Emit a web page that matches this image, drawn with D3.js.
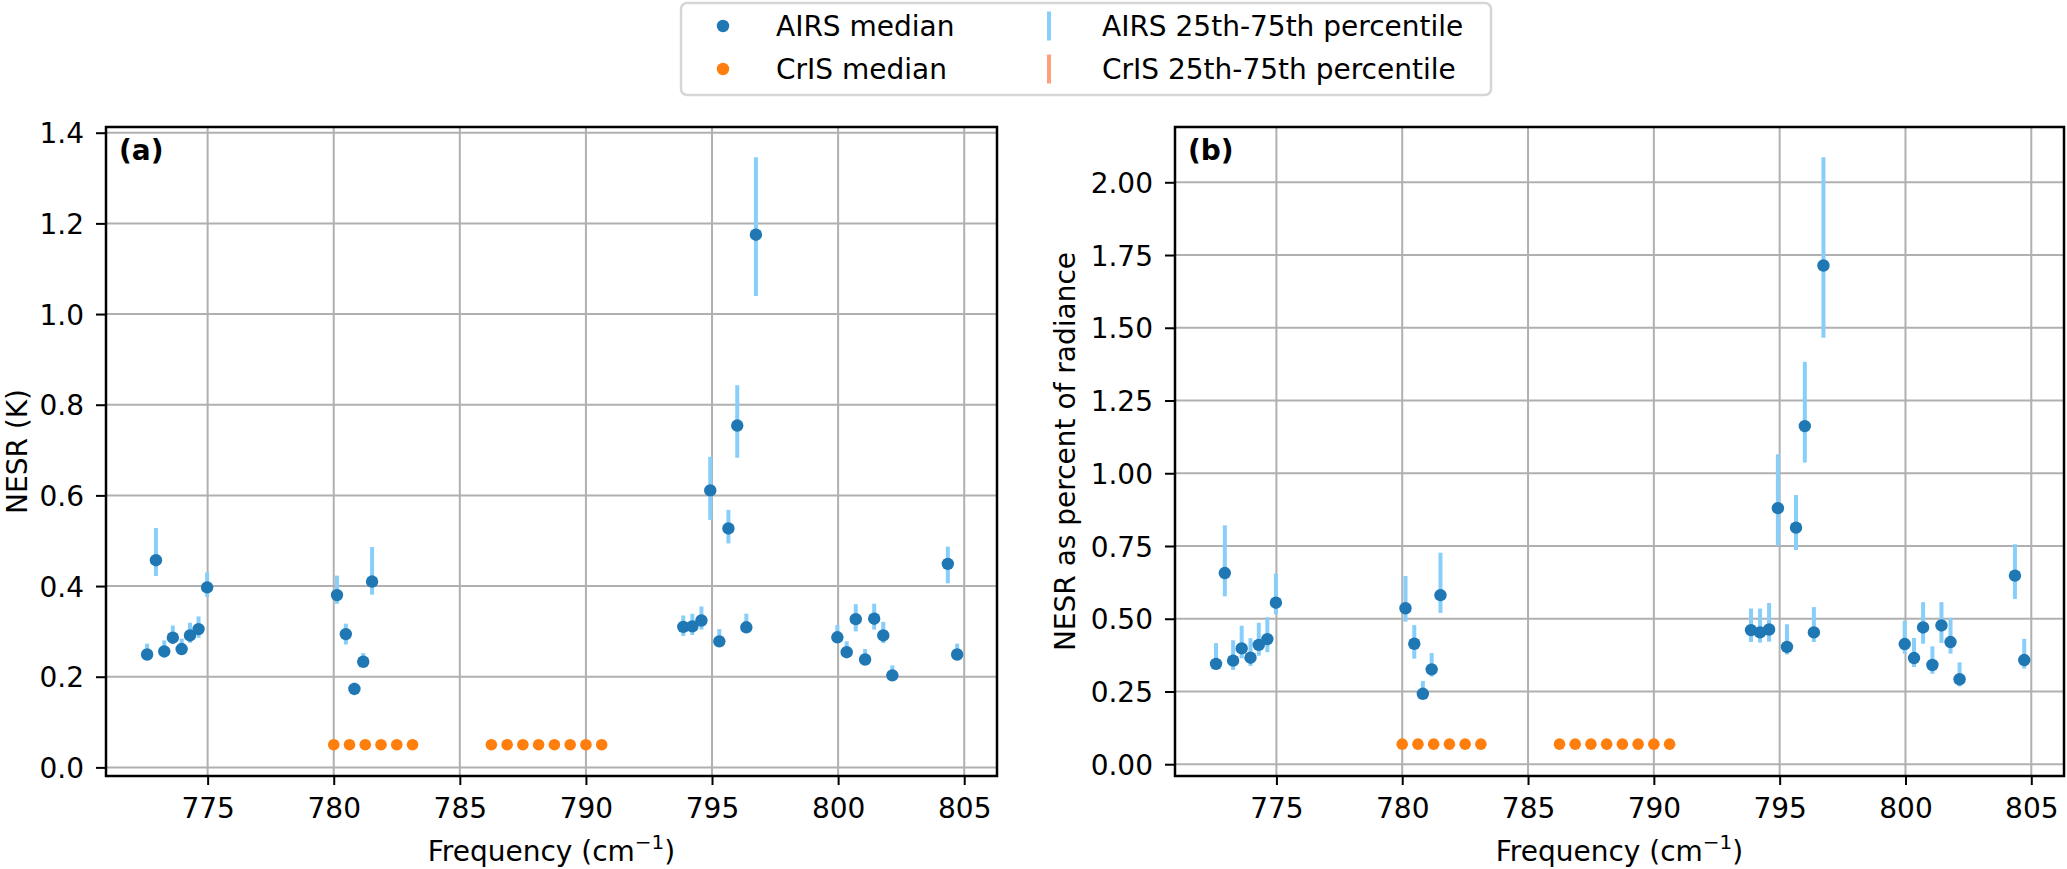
<!DOCTYPE html>
<html>
<head>
<meta charset="utf-8">
<script src="https://cdn.jsdelivr.net/npm/d3@7"></script>
<style>
  body { margin: 0; background: #fff; }
  text { font-family: "DejaVu Sans", sans-serif; fill: #000; }
</style>
</head>
<body>
<div id="main"></div>
<script>

// channel frequencies (cm-1)
const airsFreq = [772.60, 772.95, 773.28, 773.62, 773.97, 774.30, 774.64, 774.98,
    780.13, 780.48, 780.82, 781.17, 781.52,
    793.86, 794.22, 794.58, 794.93, 795.29, 795.65, 796.00, 796.36, 796.74,
    799.97, 800.34, 800.70, 801.07, 801.43, 801.79, 802.15, 804.35, 804.72];
const crisFreq = [780.0, 780.625, 781.25, 781.875, 782.5, 783.125,
    786.25, 786.875, 787.5, 788.125, 788.75, 789.375, 790.0, 790.625];

// (a) NESR in K
const airsNesrMed = [0.249, 0.457, 0.256, 0.286, 0.261, 0.291, 0.305, 0.397,
    0.380, 0.294, 0.173, 0.233, 0.410,
    0.310, 0.311, 0.324, 0.611, 0.278, 0.527, 0.754, 0.309, 1.175,
    0.287, 0.254, 0.327, 0.238, 0.328, 0.291, 0.203, 0.449, 0.249];
const airsNesrP25 = [0.240, 0.422, 0.242, 0.273, 0.250, 0.275, 0.286, 0.376,
    0.361, 0.271, 0.163, 0.223, 0.381,
    0.290, 0.292, 0.304, 0.546, 0.270, 0.494, 0.683, 0.298, 1.040,
    0.274, 0.243, 0.300, 0.227, 0.304, 0.274, 0.195, 0.406, 0.239];
const airsNesrP75 = [0.273, 0.528, 0.280, 0.313, 0.284, 0.319, 0.333, 0.430,
    0.423, 0.317, 0.187, 0.252, 0.486,
    0.335, 0.339, 0.355, 0.685, 0.305, 0.568, 0.843, 0.339, 1.346,
    0.314, 0.278, 0.360, 0.261, 0.361, 0.321, 0.225, 0.487, 0.273];
const crisNesrMed = [0.050, 0.050, 0.050, 0.050, 0.050, 0.050,
    0.050, 0.050, 0.050, 0.050, 0.050, 0.050, 0.050, 0.050];
const crisNesrP25 = [0.049, 0.049, 0.049, 0.049, 0.049, 0.049,
    0.049, 0.049, 0.049, 0.049, 0.049, 0.049, 0.049, 0.049];
const crisNesrP75 = [0.051, 0.051, 0.051, 0.051, 0.051, 0.051,
    0.051, 0.051, 0.051, 0.051, 0.051, 0.051, 0.051, 0.051];

// (b) NESR as percent of radiance
const airsPctMed = [0.345, 0.657, 0.356, 0.398, 0.366, 0.410, 0.430, 0.555,
    0.536, 0.414, 0.242, 0.326, 0.581,
    0.461, 0.453, 0.463, 0.880, 0.403, 0.813, 1.162, 0.453, 1.714,
    0.413, 0.365, 0.470, 0.341, 0.477, 0.420, 0.292, 0.648, 0.358];
const airsPctP25 = [0.324, 0.577, 0.324, 0.364, 0.338, 0.373, 0.385, 0.515,
    0.490, 0.363, 0.226, 0.301, 0.520,
    0.420, 0.418, 0.421, 0.751, 0.377, 0.736, 1.037, 0.420, 1.466,
    0.380, 0.334, 0.414, 0.311, 0.417, 0.380, 0.267, 0.568, 0.329];
const airsPctP75 = [0.416, 0.821, 0.426, 0.476, 0.433, 0.486, 0.505, 0.655,
    0.647, 0.478, 0.286, 0.382, 0.727,
    0.535, 0.535, 0.554, 1.065, 0.481, 0.925, 1.383, 0.540, 2.086,
    0.493, 0.434, 0.557, 0.405, 0.557, 0.503, 0.350, 0.756, 0.431];
const crisPctMed = [0.069, 0.069, 0.069, 0.069, 0.069, 0.069,
    0.069, 0.069, 0.069, 0.069, 0.069, 0.069, 0.069, 0.069];
const crisPctP25 = [0.068, 0.068, 0.068, 0.068, 0.068, 0.068,
    0.068, 0.068, 0.068, 0.068, 0.068, 0.068, 0.068, 0.068];
const crisPctP75 = [0.070, 0.070, 0.070, 0.070, 0.070, 0.070,
    0.070, 0.070, 0.070, 0.070, 0.070, 0.070, 0.070, 0.070];

const xTicks = [775, 780, 785, 790, 795, 800, 805];
const yTicksA = [0.0, 0.2, 0.4, 0.6, 0.8, 1.0, 1.2, 1.4];
const yTicksB = [0.00, 0.25, 0.50, 0.75, 1.00, 1.25, 1.50, 1.75, 2.00];

const airsColor = "#1f77b4", airsBarColor = "#87cefa";
const crisColor = "#ff7f0e", crisBarColor = "#ffa07a";
const FS = 28;

const svg = d3.select("#main").append("svg")
    .attr("width", 2067)
    .attr("height", 869);

function zip(f, med, lo, hi) {
    return f.map((d, i) => ({f: d, med: med[i], lo: lo[i], hi: hi[i]}));
}

function drawPanel(opts) {
    const x = d3.scaleLinear().domain([770.97, 806.3]).range([opts.left, opts.right]);
    const y = d3.scaleLinear().domain(opts.yDomain).range([776, 127]);
    const g = svg.append("g");

    // grid
    g.append("g").selectAll("line").data(xTicks).enter().append("line")
        .attr("x1", d => x(d)).attr("x2", d => x(d))
        .attr("y1", y.range()[0]).attr("y2", y.range()[1])
        .attr("stroke", "#b0b0b0").attr("stroke-width", 2);
    g.append("g").selectAll("line").data(opts.yTicks).enter().append("line")
        .attr("x1", opts.left).attr("x2", opts.right)
        .attr("y1", d => y(d)).attr("y2", d => y(d))
        .attr("stroke", "#b0b0b0").attr("stroke-width", 2);

    // error bars then medians
    const airs = zip(airsFreq, opts.airsMed, opts.airsLo, opts.airsHi);
    const cris = zip(crisFreq, opts.crisMed, opts.crisLo, opts.crisHi);

    g.append("g").selectAll("line").data(airs).enter().append("line")
        .attr("x1", d => x(d.f)).attr("x2", d => x(d.f))
        .attr("y1", d => y(d.lo)).attr("y2", d => y(d.hi))
        .attr("stroke", airsBarColor).attr("stroke-width", 4);
    g.append("g").selectAll("circle").data(airs).enter().append("circle")
        .attr("cx", d => x(d.f)).attr("cy", d => y(d.med))
        .attr("r", 6.2).attr("fill", airsColor);

    g.append("g").selectAll("line").data(cris).enter().append("line")
        .attr("x1", d => x(d.f)).attr("x2", d => x(d.f))
        .attr("y1", d => y(d.lo)).attr("y2", d => y(d.hi))
        .attr("stroke", crisBarColor).attr("stroke-width", 4);
    g.append("g").selectAll("circle").data(cris).enter().append("circle")
        .attr("cx", d => x(d.f)).attr("cy", d => y(d.med))
        .attr("r", 5.8).attr("fill", crisColor);

    // axes
    const xAxis = g.append("g")
        .attr("transform", "translate(0,776)")
        .call(d3.axisBottom(x).tickValues(xTicks).tickSize(9).tickFormat(d3.format("d")));
    xAxis.selectAll("text").attr("y", 42).attr("dy", 0)
        .style("font-size", FS + "px").style("font-family", "DejaVu Sans");

    const yAxis = g.append("g")
        .attr("transform", "translate(" + opts.left + ",0)")
        .call(d3.axisLeft(y).tickValues(opts.yTicks).tickSize(10).tickPadding(12)
            .tickFormat(d3.format(opts.fmt)));
    yAxis.selectAll("text").attr("dy", "0.36em")
        .style("font-size", FS + "px").style("font-family", "DejaVu Sans");

    [xAxis, yAxis].forEach(a => {
        a.select(".domain").remove();
        a.selectAll(".tick line").attr("stroke", "#000").attr("stroke-width", 2);
    });

    // frame
    g.append("rect")
        .attr("x", opts.left).attr("y", 127)
        .attr("width", opts.right - opts.left).attr("height", 776 - 127)
        .attr("fill", "none").attr("stroke", "#000").attr("stroke-width", 2.5);

    // panel tag
    g.append("text")
        .attr("x", opts.left + 13).attr("y", 160)
        .style("font-size", FS + "px").style("font-weight", "bold")
        .text(opts.tag);

    // x label
    const xl = g.append("text")
        .attr("x", (opts.left + opts.right) / 2).attr("y", 861)
        .attr("text-anchor", "middle")
        .style("font-size", FS + "px");
    xl.append("tspan").text("Frequency (cm");
    xl.append("tspan").attr("dy", -12).style("font-size", "20px").text("\u22121");
    xl.append("tspan").attr("dy", 12).text(")");

    // y label
    g.append("text")
        .attr("transform", "translate(" + opts.ylabelX + ",451.5)rotate(-90)")
        .attr("text-anchor", "middle")
        .style("font-size", FS + "px")
        .text(opts.ylabel);
}

drawPanel({
    left: 106, right: 997, yDomain: [-0.019, 1.4126], yTicks: yTicksA, fmt: ".1f",
    airsMed: airsNesrMed, airsLo: airsNesrP25, airsHi: airsNesrP75,
    crisMed: crisNesrMed, crisLo: crisNesrP25, crisHi: crisNesrP75,
    tag: "(a)", ylabel: "NESR (K)", ylabelX: 27
});

drawPanel({
    left: 1175, right: 2064, yDomain: [-0.0405, 2.19], yTicks: yTicksB, fmt: ".2f",
    airsMed: airsPctMed, airsLo: airsPctP25, airsHi: airsPctP75,
    crisMed: crisPctMed, crisLo: crisPctP25, crisHi: crisPctP75,
    tag: "(b)", ylabel: "NESR as percent of radiance", ylabelX: 1075
});

// legend
const legend = svg.append("g");
legend.append("rect")
    .attr("x", 681).attr("y", 3).attr("width", 810).attr("height", 92)
    .attr("rx", 6).attr("fill", "#fff").attr("stroke", "#d6d6d6").attr("stroke-width", 2.5);

const legendItems = [
    {type: "dot", color: airsColor, label: "AIRS median", x: 723, y: 26},
    {type: "dot", color: crisColor, label: "CrIS median", x: 723, y: 69},
    {type: "bar", color: airsBarColor, label: "AIRS 25th-75th percentile", x: 1049, y: 26},
    {type: "bar", color: crisBarColor, label: "CrIS 25th-75th percentile", x: 1049, y: 69}
];
legendItems.forEach(d => {
    if (d.type === "dot") {
        legend.append("circle").attr("cx", d.x).attr("cy", d.y).attr("r", 6.2).attr("fill", d.color);
    } else {
        legend.append("line").attr("x1", d.x).attr("x2", d.x)
            .attr("y1", d.y - 14.5).attr("y2", d.y + 14.5)
            .attr("stroke", d.color).attr("stroke-width", 4);
    }
    legend.append("text")
        .attr("x", d.x + 53).attr("y", d.y + 10)
        .style("font-size", FS + "px")
        .text(d.label);
});

</script>
</body>
</html>
